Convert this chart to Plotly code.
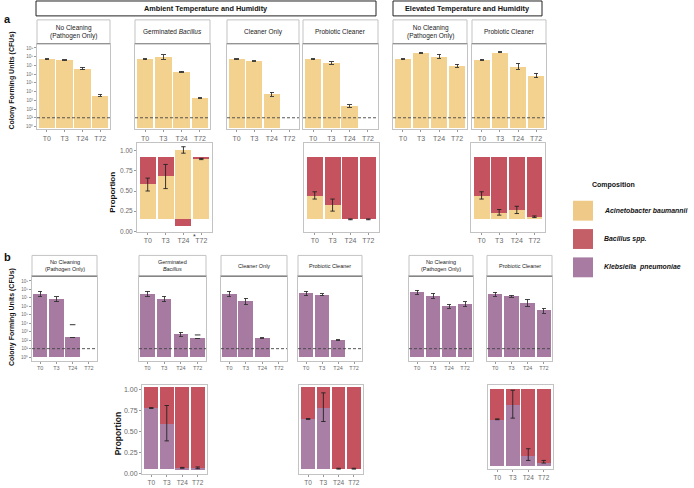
import plotly.graph_objects as go

W, H = 694, 488
FONT = "Liberation Sans, Arial, sans-serif"

# ---------------- data ----------------
times = ["T0", "T3", "T24", "T72"]
cfu_tickvals = list(range(10))
cfu_ticklabels = ["10⁰", "10¹", "10²", "10³", "10⁴", "10⁵", "10⁶", "10⁷", "10⁸", "10⁹"]
prop_tickvals = [0, 0.25, 0.5, 0.75, 1.0]
prop_ticklabels = ["0.00", "0.25", "0.50", "0.75", "1.00"]
detection_limit_log = 1

strip_a = ["No Cleaning<br>(Pathogen Only)", "Germinated <i>Bacillus</i>", "Cleaner Only",
           "Probiotic Cleaner", "No Cleaning<br>(Pathogen Only)", "Probiotic Cleaner"]
strip_b = ["No Cleaning<br>(Pathogen Only)", "Germinated<br><i>Bacillus</i>", "Cleaner Only",
           "Probiotic Cleaner", "No Cleaning<br>(Pathogen Only)", "Probiotic Cleaner"]
header_ambient = "Ambient Temperature and Humidity"
header_elevated = "Elevated Temperature and Humidity"

# Panel a: A. baumannii CFUs (log10 values)
a_amb_nocln = [7.72, 7.60, 6.64, 3.58]
a_amb_nocln_err = [0.05, 0.05, 0.13, 0.13]
a_amb_germ = [7.72, 7.97, 6.30, 3.26]
a_amb_germ_err = [0.05, 0.25, 0.06, 0.05]
a_amb_clean = [7.72, 7.52, 3.72, None]
a_amb_clean_err = [0.05, 0.04, 0.23, 0]
a_amb_probio = [7.72, 7.29, 2.35, None]
a_amb_probio_err = [0.04, 0.15, 0.13, 0]
a_elv_nocln = [7.72, 8.46, 8.04, 6.98]
a_elv_nocln_err = [0.05, 0.06, 0.22, 0.16]
a_elv_probio = [7.66, 8.50, 6.90, 5.84]
a_elv_probio_err = [0.04, 0.07, 0.35, 0.24]

# Panel b: K. pneumoniae CFUs (log10)
b_amb_nocln = [7.44, 6.85, 2.35, None]
b_amb_nocln_err = [0.33, 0.28, 0, 0]
b_amb_nocln_dash = [None, None, 3.83, None]
b_amb_germ = [7.44, 6.85, 2.66, 2.19]
b_amb_germ_err = [0.33, 0.33, 0.27, 0]
b_amb_germ_dash = [None, None, None, 2.62]
b_amb_clean = [7.44, 6.58, 2.27, None]
b_amb_clean_err = [0.33, 0.40, 0.03, 0]
b_amb_probio = [7.52, 7.36, 2.00, None]
b_amb_probio_err = [0.28, 0.10, 0.04, 0]
b_elv_nocln = [7.64, 7.24, 5.99, 6.26]
b_elv_nocln_err = [0.28, 0.28, 0.24, 0.28]
b_elv_probio = [7.44, 7.20, 6.38, 5.48]
b_elv_probio_err = [0.24, 0.10, 0.45, 0.30]

# Panel a composition (positions on the displayed proportion axis)
a_prop_floor = 0.148
a_prop_ceil = 0.926
a_germ_acin_top = [0.58, 0.68, 1.01, 0.90]
a_germ_bac_base = [0.58, 0.68, 0.06, 0.90]
a_germ_bac_top = [0.926, 0.926, 0.148, 0.926]
a_germ_err_lo = [0.50, 0.53, 0.97, 0.89]
a_germ_err_hi = [0.66, 0.83, 1.05, 0.905]
a_probio_acin_top = [0.44, 0.32, 0.148, 0.148]
a_probio_err_lo = [0.40, 0.25, 0.143, 0.143]
a_probio_err_hi = [0.49, 0.40, 0.153, 0.153]
a_elv_probio_acin_top = [0.44, 0.23, 0.26, 0.18]
a_elv_probio_err_lo = [0.40, 0.20, 0.22, 0.17]
a_elv_probio_err_hi = [0.49, 0.27, 0.31, 0.19]

# Panel b composition
b_prop_floor = 0.06
b_prop_ceil = 1.03
b_germ_kleb_top = [0.78, 0.59, 0.07, 0.07]
b_germ_err_lo = [0.775, 0.39, 0.065, 0.06]
b_germ_err_hi = [0.785, 0.81, 0.075, 0.08]
b_probio_kleb_top = [0.65, 0.79, 0.06, 0.06]
b_probio_err_lo = [0.645, 0.62, 0.055, 0.055]
b_probio_err_hi = [0.655, 0.96, 0.065, 0.065]
b_elv_prop_floor = 0.07
b_elv_probio_kleb_top = [0.65, 0.84, 0.195, 0.11]
b_elv_probio_err_lo = [0.645, 0.665, 0.133, 0.10]
b_elv_probio_err_hi = [0.655, 1.015, 0.28, 0.133]

legend_title = "Composition"
legend_labels = ["Acinetobacter baumannii", "Bacillus spp.", "Klebsiella  pneumoniae"]

# ---------------- style ----------------
C_ACIN = "#F3D18F"
C_BAC = "#C4535F"
C_KLEB = "#A67AA1"
C_KLEB_P = "#A97FA6"
LEG_COLORS = ["#EEC987", "#C45E67", "#A87BA3"]
BORDER = "#C3C3C3"
TICKC = "#6a6a6a"


def fx(p):
    return p / W


def fy(p):
    return 1 - p / H


fig = go.Figure()
shapes = []
annos = []
counter = [0]


def text_at(x, y, text, size, color="#111", angle=0, xanchor="center", xref="paper"):
    annos.append(dict(xref=xref, yref="paper", x=x if xref != "paper" else fx(x), y=fy(y),
                      text=text, showarrow=False, xanchor=xanchor, yanchor="middle",
                      textangle=angle, font=dict(size=size, color=color, family=FONT)))


def new_axes(x0, x1, y0, y1, xrange, yrange, ytick, tick_size, ytick_size):
    counter[0] += 1
    n = counter[0]
    xk = "xaxis" if n == 1 else f"xaxis{n}"
    yk = "yaxis" if n == 1 else f"yaxis{n}"
    xr = "x" if n == 1 else f"x{n}"
    yr = "y" if n == 1 else f"y{n}"
    xa = dict(domain=[fx(x0), fx(x1)], anchor=yr, range=xrange,
              tickvals=[0, 1, 2, 3], ticktext=times, showgrid=False, zeroline=False,
              showline=True, mirror=True, linecolor=BORDER, linewidth=1,
              ticks="outside", ticklen=2, tickcolor="#999", tickwidth=0.8,
              tickfont=dict(size=tick_size, color=TICKC, family=FONT), fixedrange=True)
    ya = dict(domain=[fy(y1), fy(y0)], anchor=xr, range=yrange, showgrid=False,
              zeroline=False, showline=True, mirror=True, linecolor=BORDER, linewidth=1,
              fixedrange=True)
    if ytick is None:
        ya.update(showticklabels=False, ticks="")
    else:
        ya.update(tickvals=ytick[0], ticktext=ytick[1], ticks="outside", ticklen=2,
                  tickcolor="#999", tickwidth=0.8,
                  tickfont=dict(size=ytick_size, color=TICKC, family=FONT))
    fig.update_layout(**{xk: xa, yk: ya})
    return xr, yr


def strip(x0, x1, y0, y1, text, size):
    shapes.append(dict(type="rect", xref="paper", yref="paper", x0=fx(x0), x1=fx(x1),
                       y0=fy(y1), y1=fy(y0), line=dict(color=BORDER, width=1),
                       fillcolor="white", layer="below"))
    shapes.append(dict(type="line", xref="paper", yref="paper", x0=fx(x0), x1=fx(x1),
                       y0=fy(y1), y1=fy(y1), line=dict(color="#858585", width=1.2)))
    text_at((x0 + x1) / 2, (y0 + y1) / 2, text, size, color="#222")


def cfu_panel(x0, x1, y0, y1, st, text, vals, errs, color, yrange, show_y, floor,
              strip_size, tick_size, xrange, width, dash=None):
    xr, yr = new_axes(x0, x1, y0, y1, xrange, yrange,
                      (cfu_tickvals, cfu_ticklabels) if show_y else None, tick_size, 4.5)
    strip(x0, x1, st, y0, text, strip_size)
    ys = [None if v is None else v - floor for v in vals]
    fig.add_trace(go.Bar(x=[0, 1, 2, 3], y=ys, base=floor, width=width,
                         marker=dict(color=color, line=dict(width=0)),
                         error_y=dict(type="data", array=errs, color="#333",
                                      thickness=0.9, width=2.2),
                         xaxis=xr, yaxis=yr, showlegend=False, hoverinfo="skip"))
    if dash is not None:
        fig.add_trace(go.Scatter(x=[0, 1, 2, 3], y=dash, mode="markers",
                                 marker=dict(symbol="line-ew", size=4,
                                             line=dict(color="#333", width=1)),
                                 xaxis=xr, yaxis=yr, showlegend=False, hoverinfo="skip"))
    dref = "x domain" if xr == "x" else f"{xr} domain"
    shapes.append(dict(type="line", xref=dref, yref=yr, x0=0, x1=1,
                       y0=detection_limit_log, y1=detection_limit_log,
                       line=dict(color="#444", width=0.9, dash="3px,2px")))
    return xr, yr


# ---------------- panel a, CFU ----------------
a_y0, a_y1, a_st = 44, 130, 20
a_range = [-0.31, 9.49]
a_floor = -0.1
a_xr = [-0.55, 3.55]
a_cols = [(37, 110), (135, 210), (227, 299), (303, 378), (393, 467), (472, 546)]
a_vals = [a_amb_nocln, a_amb_germ, a_amb_clean, a_amb_probio, a_elv_nocln, a_elv_probio]
a_errs = [a_amb_nocln_err, a_amb_germ_err, a_amb_clean_err, a_amb_probio_err,
          a_elv_nocln_err, a_elv_probio_err]
for i, (c0, c1) in enumerate(a_cols):
    cfu_panel(c0, c1, a_y0, a_y1, a_st, strip_a[i], a_vals[i], a_errs[i], C_ACIN,
              a_range, i == 0, a_floor, 6.5, 7, a_xr, 0.92)

# ---------------- panel a, composition ----------------
ap_y0, ap_y1 = 144, 233
ap_range = [-0.004, 1.095]
ap_xr = [-0.6, 3.6]
ap_panels = [
    ((137, 212), a_germ_acin_top, a_germ_bac_base, a_germ_bac_top, a_germ_err_lo, a_germ_err_hi, True),
    ((304, 379), a_probio_acin_top, a_probio_acin_top, [a_prop_ceil] * 4, a_probio_err_lo, a_probio_err_hi, False),
    ((471, 545), a_elv_probio_acin_top, a_elv_probio_acin_top, [a_prop_ceil] * 4, a_elv_probio_err_lo, a_elv_probio_err_hi, False),
]
for k, ((c0, c1), atop, bbase, btop, elo, ehi, showy) in enumerate(ap_panels):
    xr, yr = new_axes(c0, c1, ap_y0, ap_y1, ap_xr, ap_range,
                      (prop_tickvals, prop_ticklabels) if showy else None, 7, 6.5)
    fig.add_trace(go.Bar(x=[0, 1, 2, 3], y=[v - a_prop_floor for v in atop], base=a_prop_floor,
                         width=0.9, marker=dict(color=C_ACIN, line=dict(width=0)),
                         xaxis=xr, yaxis=yr, showlegend=False, hoverinfo="skip"))
    fig.add_trace(go.Bar(x=[0, 1, 2, 3], y=[t - b for b, t in zip(bbase, btop)], base=bbase,
                         width=0.9, marker=dict(color=C_BAC, line=dict(width=0)),
                         xaxis=xr, yaxis=yr, showlegend=False, hoverinfo="skip"))
    fig.add_trace(go.Scatter(x=[0, 1, 2, 3], y=atop, mode="markers",
                             marker=dict(size=1, opacity=0),
                             error_y=dict(type="data", symmetric=False,
                                          array=[h - t for h, t in zip(ehi, atop)],
                                          arrayminus=[t - l for l, t in zip(elo, atop)],
                                          color="#222", thickness=0.9, width=2.2),
                             xaxis=xr, yaxis=yr, showlegend=False, hoverinfo="skip"))
    if k == 0:
        text_at(2.42, 238, "*", 7, color="#333", xanchor="left", xref=xr)

# ---------------- panel b, CFU ----------------
b_y0, b_y1, b_st = 278, 363, 257
b_range = [-0.43, 9.55]
b_xr = [-0.5, 3.5]
b_cols = [(32, 97), (139, 206), (221, 287), (298, 362), (409, 473), (487, 552)]
b_vals = [b_amb_nocln, b_amb_germ, b_amb_clean, b_amb_probio, b_elv_nocln, b_elv_probio]
b_errs = [b_amb_nocln_err, b_amb_germ_err, b_amb_clean_err, b_amb_probio_err,
          b_elv_nocln_err, b_elv_probio_err]
b_dash = [b_amb_nocln_dash, b_amb_germ_dash, None, None, None, None]
for i, (c0, c1) in enumerate(b_cols):
    cfu_panel(c0, c1, b_y0, b_y1, b_st, strip_b[i], b_vals[i], b_errs[i], C_KLEB,
              b_range, i == 0, 0, 5.5, 5.5, b_xr, 0.88, b_dash[i])

# ---------------- panel b, composition ----------------
bp_range = [-0.004, 1.058]
bp6_range = [0.024, 1.086]
bp_xr = [-0.6, 3.6]
bp_panels = [
    ((142, 207), (387, 477), bp_range, b_prop_floor, b_germ_kleb_top, b_germ_err_lo, b_germ_err_hi, True),
    ((299, 363), (387, 477), bp_range, b_prop_floor, b_probio_kleb_top, b_probio_err_lo, b_probio_err_hi, False),
    ((488, 553), (387, 472), bp6_range, b_elv_prop_floor, b_elv_probio_kleb_top, b_elv_probio_err_lo, b_elv_probio_err_hi, False),
]
for (c0, c1), (r0, r1), rng, floor, ktop, elo, ehi, showy in bp_panels:
    xr, yr = new_axes(c0, c1, r0, r1, bp_xr, rng,
                      (prop_tickvals, prop_ticklabels) if showy else None, 6.5, 7)
    fig.add_trace(go.Bar(x=[0, 1, 2, 3], y=[b_prop_ceil - v for v in ktop], base=ktop,
                         width=0.88, marker=dict(color=C_BAC, line=dict(width=0)),
                         xaxis=xr, yaxis=yr, showlegend=False, hoverinfo="skip"))
    fig.add_trace(go.Bar(x=[0, 1, 2, 3], y=[v - floor for v in ktop], base=floor,
                         width=0.88, marker=dict(color=C_KLEB_P, line=dict(width=0)),
                         xaxis=xr, yaxis=yr, showlegend=False, hoverinfo="skip"))
    fig.add_trace(go.Scatter(x=[0, 1, 2, 3], y=ktop, mode="markers",
                             marker=dict(size=1, opacity=0),
                             error_y=dict(type="data", symmetric=False,
                                          array=[h - t for h, t in zip(ehi, ktop)],
                                          arrayminus=[t - l for l, t in zip(elo, ktop)],
                                          color="#222", thickness=0.9, width=2.2),
                             xaxis=xr, yaxis=yr, showlegend=False, hoverinfo="skip"))

# ---------------- headers, labels ----------------
for (x0, x1, txt) in [(36, 376, header_ambient), (393, 542, header_elevated)]:
    shapes.append(dict(type="rect", xref="paper", yref="paper", x0=fx(x0), x1=fx(x1),
                       y0=fy(16), y1=fy(1), line=dict(color="#222", width=1), fillcolor="white",
                       layer="below"))
    text_at((x0 + x1) / 2, 8.5, f"<b>{txt}</b>", 7.3)

text_at(2, 19, "<b>a</b>", 11, xanchor="left")
text_at(2, 259, "<b>b</b>", 11, xanchor="left")
for yc in (81, 319):
    text_at(12, yc, "<b>Colony Forming Units (CFUs)</b>", 7, angle=-90)
text_at(113, 194, "<b>Proportion</b>", 8, angle=-90)
text_at(118, 437, "<b>Proportion</b>", 8.5, angle=-90)

# ---------------- legend ----------------
text_at(590, 186, f"<b>{legend_title}</b>", 7, xanchor="left")
for i, (lab, col) in enumerate(zip(legend_labels, LEG_COLORS)):
    top = 202 + i * 28.5
    shapes.append(dict(type="rect", xref="paper", yref="paper", x0=fx(573), x1=fx(593),
                       y0=fy(top + 20), y1=fy(top), line=dict(width=0), fillcolor=col))
    text_at(602, top + 10, f"<b><i>{lab}</i></b>", 6.9, xanchor="left")

fig.update_layout(width=W, height=H, autosize=False, margin=dict(l=0, r=0, t=0, b=0),
                  paper_bgcolor="white", plot_bgcolor="white", barmode="overlay", bargap=0,
                  shapes=shapes, annotations=annos, showlegend=False,
                  font=dict(family=FONT))
fig.write_html("out.html", config={"displayModeBar": False},
               post_script="document.body.style.margin='0';document.body.style.padding='0';")
